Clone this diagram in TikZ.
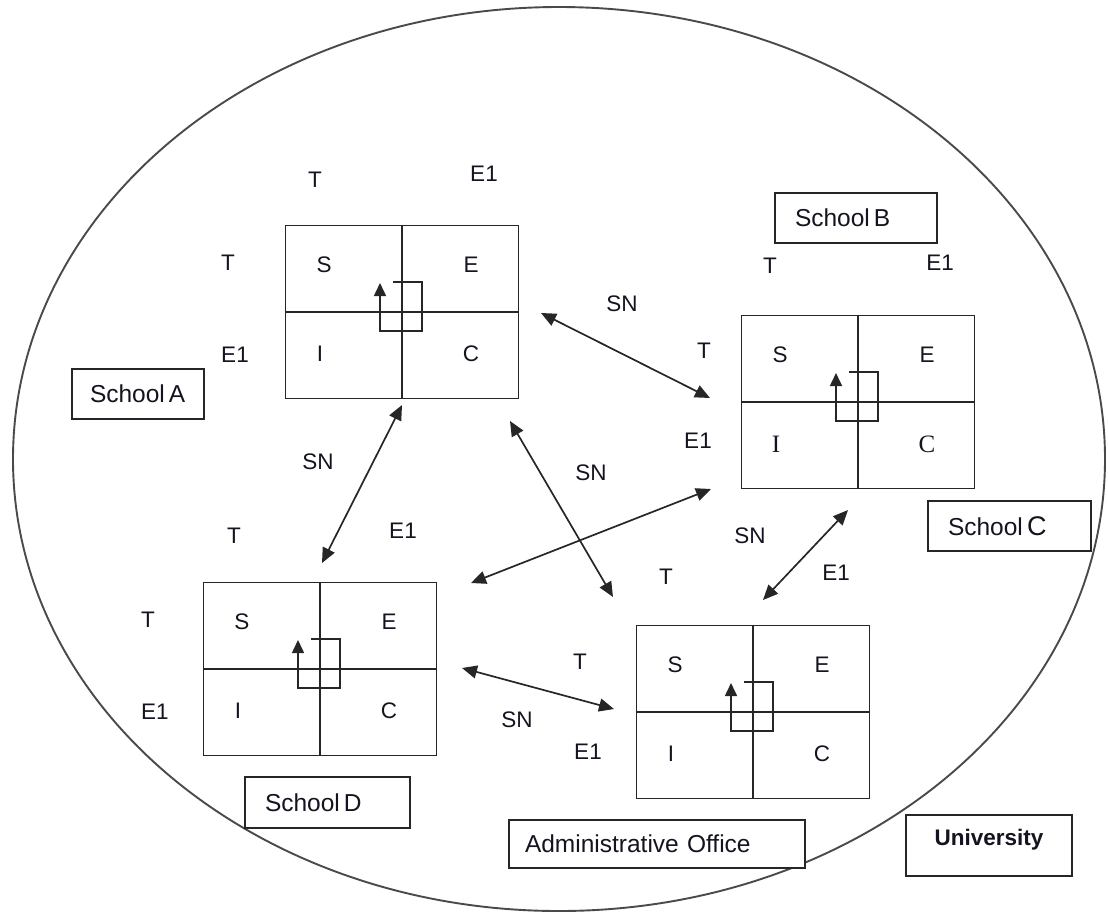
\documentclass[tikz,border=0pt]{standalone}
\usepackage{fontspec}
\setmainfont{Liberation Sans}
\newfontfamily\serifx{Liberation Serif}
\usetikzlibrary{arrows.meta}
\definecolor{edge}{HTML}{262626}
\definecolor{ringc}{HTML}{4A4A4A}
\definecolor{ink}{HTML}{141420}
\newcommand\quadbox[5]{% name, x, y, I text, C text
  \node[quad] (#1) at (#2,#3) {};
  \draw[divider] (#1.north) -- (#1.south);
  \draw[divider] (#1.west) -- (#1.east);
  \begin{scope}[shift={(#1.center)}]
    \node[lbl] (#1S) at (-78,-47) {S};
    \node[lbl] (#1E) at (69,-47) {E};
    \node[lbl] (#1I) at (-82,42) {#4};
    \node[lbl] (#1C) at (69,42) {#5};
    \coordinate (#1p0) at (-9,-30);
    \coordinate (#1p1) at (20,-30);
    \coordinate (#1p2) at (20,19);
    \coordinate (#1p3) at (-22,19);
    \coordinate (#1p4) at (-22,-29);
    \draw[loopar] (#1p0) -- (#1p1) -- (#1p2) -- (#1p3) -- (#1p4);
  \end{scope}
}
\begin{document}
\begin{tikzpicture}[x=1pt,y=-1pt,
  lbl/.style={font=\fontsize{22.5}{24}\selectfont, text=ink, inner sep=0pt},
  quad/.style={draw=edge, line width=1.9pt, minimum width=233pt, minimum height=173pt, inner sep=0pt},
  divider/.style={draw=edge, line width=1.8pt},
  tag/.style={draw=edge, line width=1.9pt, fill=white, inner ysep=0pt, align=left, text=ink,
    font=\fontsize{24.5}{26}\selectfont},
  link/.style={draw=edge, line width=1.7pt, {Triangle[length=15pt,width=13pt]}-{Triangle[length=15pt,width=13pt]}},
  loopar/.style={draw=edge, line width=1.6pt, -{Triangle[length=13pt,width=12pt]}},
  ring/.style={draw=ringc, line width=1.9pt}
]
\useasboundingbox (0,0) rectangle (1108,914);
\draw[ring] (559,459) ellipse [x radius=546, y radius=452];

\quadbox{A}{402}{312}{I}{C}
\quadbox{C}{858}{402}{\serifx\fontsize{25}{27}\selectfont I}{\serifx\fontsize{25}{27}\selectfont C}
\quadbox{D}{320}{669}{I}{C}
\quadbox{O}{753}{712}{I}{C}

% tags
\node[tag, minimum height=50pt, inner xsep=18pt, text width=96pt] (tA) at (138,394) {School\,A};
\node[tag, minimum height=50pt, inner xsep=20pt, text width=122pt] (tB) at (856,218) {School\,B};
\node[tag, minimum height=50pt, inner xsep=20pt, text width=123pt] (tC) at (1009.5,526) {School\,{\fontsize{27}{27}\selectfont C}};
\node[tag, minimum height=51pt, inner xsep=20pt, text width=125pt] (tD) at (327.5,802.5) {School\,D};
\node[tag, minimum height=48pt, inner xsep=16pt, text width=264pt] (tO) at (657,844) {Administrative Office};
\node[tag, minimum height=61pt, inner xsep=0pt, text width=166pt, align=center, font=\fontsize{22.5}{24}\selectfont\bfseries] (tU) at (989,845.5) {\raisebox{0pt}[0pt][0pt]{University}};

% T / E1 labels
\node[lbl] (tA1) at (315,180) {T};
\node[lbl] (eA1) at (484,174) {E1};
\node[lbl] (tA2) at (228,263) {T};
\node[lbl] (eA2) at (235,355) {E1};
\node[lbl] (tC1) at (770,266) {T};
\node[lbl] (eC1) at (940,263) {E1};
\node[lbl] (tC2) at (704,351) {T};
\node[lbl] (eC2) at (698,441) {E1};
\node[lbl] (tD1) at (234,536) {T};
\node[lbl] (eD1) at (403,531) {E1};
\node[lbl] (tD2) at (148,620) {T};
\node[lbl] (eD2) at (155,712) {E1};
\node[lbl] (tO1) at (666,577) {T};
\node[lbl] (eO1) at (836,573) {E1};
\node[lbl] (tO2) at (580,662) {T};
\node[lbl] (eO2) at (588,752) {E1};

% SN labels
\node[lbl] (sn1) at (622,304) {SN};
\node[lbl] (sn2) at (318,462) {SN};
\node[lbl] (sn3) at (591,473) {SN};
\node[lbl] (sn4) at (750,536) {SN};
\node[lbl] (sn5) at (517,720) {SN};

% connector end points
\coordinate (aC) at (541,313);
\coordinate (cA) at (710,398);
\coordinate (aD) at (402,405);
\coordinate (dA) at (322,563);
\coordinate (aO) at (510,421);
\coordinate (oA) at (613,597);
\coordinate (dC) at (471,583);
\coordinate (cD) at (711,489);
\coordinate (cO) at (848,510);
\coordinate (oC) at (763,600);
\coordinate (dO) at (462,668);
\coordinate (oD) at (614,709);

\draw[link] (aC) -- (cA);
\draw[link] (aD) -- (dA);
\draw[link] (aO) -- (oA);
\draw[link] (dC) -- (cD);
\draw[link] (cO) -- (oC);
\draw[link] (dO) -- (oD);
\end{tikzpicture}
\end{document}
